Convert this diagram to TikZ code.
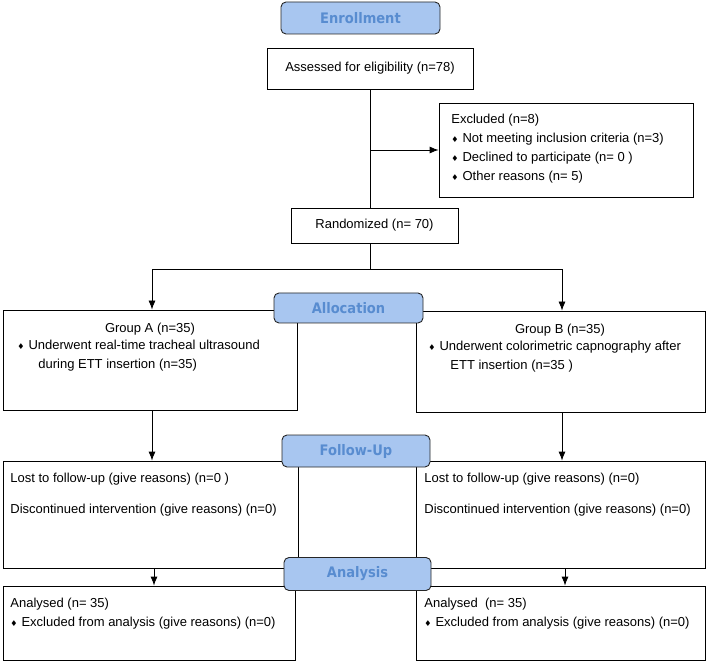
\documentclass[tikz,border=0pt]{standalone}
\usepackage{fontspec}
\setmainfont{Liberation Sans}
\newfontfamily\stagefont{DejaVu Sans Condensed}
\newfontfamily\symfont{DejaVu Sans}
\usetikzlibrary{positioning,arrows.meta}
\definecolor{stagefill}{RGB}{168,198,240}
\definecolor{stagetext}{RGB}{88,140,208}
\newcommand{\bul}{{\symfont\fontsize{8}{8}\selectfont\symbol{"2666}}\hspace{4pt}}
\tikzset{
  box/.style={draw, line width=0.8pt, inner sep=0pt},
  stage/.style={draw=black!85, line width=0.9pt, fill=stagefill, rounded corners=5pt,
    text=stagetext, font=\stagefont\bfseries\fontsize{14.5}{14.5}\selectfont},
  txt/.style={inner sep=0pt, align=left, font=\fontsize{13}{19}\selectfont},
}

\begin{document}
\begin{tikzpicture}[>={Latex[length=9pt,width=7pt]}, x=1pt, y=-1pt, line width=0.8pt]
        \useasboundingbox (0,0) rectangle (710,663);
        % boxes
        \node[box, txt, minimum width=206pt, minimum height=41pt] (assess) at (370,68.5) {Assessed for eligibility (n=78)};
        \node[box, minimum width=254pt, minimum height=94pt] (excl) at (566,150) {};
        \node[box, txt, minimum width=167pt, minimum height=35pt] (rand) at (374.5,225.5) {Randomized (n= 70)};
        \node[box, minimum width=294pt, minimum height=100pt] (grpA) at (150,360) {};
        \node[box, minimum width=289pt, minimum height=101pt] (grpB) at (560.5,361.5) {};
        \node[box, minimum width=295pt, minimum height=107pt] (lostA) at (150.5,514.5) {};
        \node[box, minimum width=289pt, minimum height=107pt] (lostB) at (560.5,514.5) {};
        \node[box, minimum width=292pt, minimum height=74pt] (anaA) at (149,623) {};
        \node[box, minimum width=289pt, minimum height=74pt] (anaB) at (560.5,623) {};
        % texts
        \node[txt, anchor=north west] (exclT) at (451,114) {Excluded (n=8)\\
            \bul Not meeting inclusion criteria (n=3)\\
            \bul Declined to participate (n= 0 )\\
            \bul Other reasons (n= 5)};
        \node[txt] (grpAh) at (150,329) {Group A (n=35)};
        \node[txt, anchor=north west] (grpAT) at (17,340) {\bul Underwent real-time tracheal ultrasound\\
            \hspace*{21pt}during ETT insertion (n=35)};
        \node[txt] (grpBh) at (560,330) {Group B (n=35)};
        \node[txt, anchor=north west] (grpBT) at (428,341) {\bul Underwent colorimetric capnography after\\
            \hspace*{22pt}ETT insertion (n=35 )};
        \node[txt, anchor=north west] (lostAT) at (10,473) {Lost to follow-up (give reasons) (n=0 )\\[12pt]
            Discontinued intervention (give reasons) (n=0)};
        \node[txt, anchor=north west] (lostBT) at (424,473) {Lost to follow-up (give reasons) (n=0)\\[12pt]
            Discontinued intervention (give reasons) (n=0)};
        \node[txt, anchor=north west] (anaAT) at (10,598) {Analysed (n= 35)\\
            \bul Excluded from analysis (give reasons) (n=0)};
        \node[txt, anchor=north west] (anaBT) at (424,598) {Analysed\ \ (n= 35)\\
            \bul Excluded from analysis (give reasons) (n=0)};
        % connectors
        \coordinate (splitL) at (152,269);
        \coordinate (splitR) at (562,269);
        \coordinate (dropL) at (154,0);
        \coordinate (dropR) at (565,0);
        \draw (assess.south) -- (assess.south |- rand.north);
        \draw[->] (assess.south |- excl.west) -- (excl.west);
        \draw[->] (assess.south |- rand.south) |- (splitL) -- (splitL |- grpA.north);
        \draw[->] (assess.south |- rand.south) |- (splitR) -- (splitR |- grpB.north);
        \draw[->] (splitL |- grpA.south) -- (splitL |- lostA.north);
        \draw[->] (splitR |- grpB.south) -- (splitR |- lostB.north);
        \draw[->] (dropL |- lostA.south) -- (dropL |- anaA.north);
        \draw[->] (dropR |- lostB.south) -- (dropR |- anaB.north);
        % stage labels
        \node[stage, minimum width=159pt, minimum height=32pt] (enrol) at (360.5,18) {Enrollment};
        \node[stage, minimum width=149pt, minimum height=30pt] (alloc) at (348.5,308) {Allocation};
        \node[stage, minimum width=148pt, minimum height=32pt] (follow) at (356,451) {Follow-Up};
        \node[stage, minimum width=147pt, minimum height=33pt] (anal) at (357.5,574) {Analysis};
    \end{tikzpicture}
\end{document}
